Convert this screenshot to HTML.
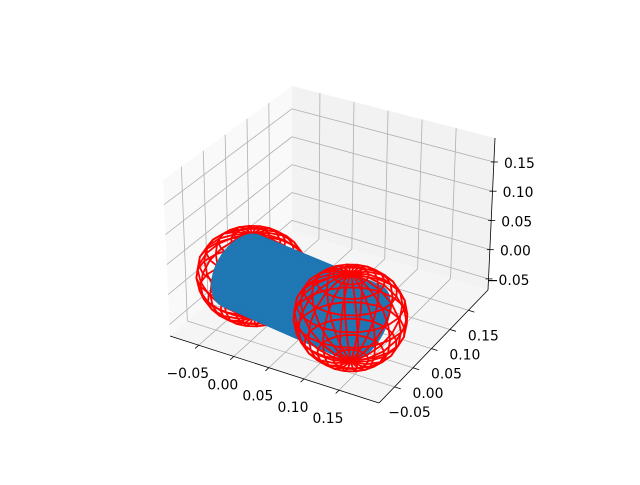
<!DOCTYPE html>
<html><head><meta charset="utf-8"><style>
html,body{margin:0;padding:0;background:#fff;}
svg text{font-family:"DejaVu Sans","Liberation Sans",sans-serif;font-size:13.9px;fill:#000;}
</style></head>
<body>
<svg id="chart" width="640" height="480" viewBox="0 0 640 480" xmlns="http://www.w3.org/2000/svg">
<rect width="640" height="480" fill="#fff"/>
<g id="panes"></g>
<g id="grid"></g>
<g id="axes"></g>
<g id="marks"></g>
</svg>
<script>
// ---- data ----
const xLim = [-0.091, 0.207];
const yLim = [-0.092, 0.203];
const zLim = [-0.069, 0.191];
const xTicks = [-0.05, 0.00, 0.05, 0.10, 0.15];
const yTicks = [-0.05, 0.00, 0.05, 0.10, 0.15];
const zTicks = [-0.05, 0.00, 0.05, 0.10, 0.15];
const tickLabels = ["\u22120.05", "0.00", "0.05", "0.10", "0.15"];
const sphereCentersX = [-0.032, 0.126];
const sphereCentersY = [0.012, -0.017];
const sphereCentersZ = [-0.008, -0.005];
const sphereRadius = [0.07, 0.072];
const cylinderRadius = [0.055];
const cylinderExtension = [0.02];

// ---- projection: trilinear interpolation between screen corners of the box ----
const C = {
  '000':[170,336],'100':[379,403],'110':[488,290],'010':[292,231],
  '001':[163,180],'101':[379,238],'111':[495,138],'011':[292,86]
};
function projF(u,v,w){
  let X=0,Y=0;
  for(const a of [0,1])for(const b of [0,1])for(const c of [0,1]){
    const wt=(a?u:1-u)*(b?v:1-v)*(c?w:1-w);
    const p=C[''+a+b+c];X+=wt*p[0];Y+=wt*p[1];
  }
  return [X,Y];
}
function fx(x){return (x-xLim[0])/(xLim[1]-xLim[0]);}
function fy(y){return (y-yLim[0])/(yLim[1]-yLim[0]);}
function fz(z){return (z-zLim[0])/(zLim[1]-zLim[0]);}
function proj(x,y,z){return projF(fx(x),fy(y),fz(z));}
function depth(x,y,z){return 0.433*(fx(x)-.5)-0.75*(fy(y)-.5)+0.5*(fz(z)-.5);}

const NS='http://www.w3.org/2000/svg';
function mk(tag,attrs,parent){const e=document.createElementNS(NS,tag);for(const k in attrs)e.setAttribute(k,attrs[k]);parent.appendChild(e);return e;}
const pts=a=>a.map(p=>p[0].toFixed(2)+','+p[1].toFixed(2)).join(' ');

// panes
const panes=document.getElementById('panes');
let e;
e=mk('polygon',{points:pts([projF(0,0,0),projF(0,1,0),projF(0,1,1),projF(0,0,1)]),fill:'#f9f9f9'},panes);


e=mk('polygon',{points:pts([projF(0,1,0),projF(1,1,0),projF(1,1,1),projF(0,1,1)]),fill:'#f2f2f2'},panes);


e=mk('polygon',{points:pts([projF(0,0,0),projF(1,0,0),projF(1,1,0),projF(0,1,0)]),fill:'#f5f5f5'},panes);



// grid
const grid=document.getElementById('grid');
function gl(a,b,name){const l=mk('line',{x1:a[0],y1:a[1],x2:b[0],y2:b[1],stroke:'#b0b0b0','stroke-width':0.8},grid);

}
xTicks.forEach(t=>{const u=fx(t);gl(projF(u,0,0),projF(u,1,0),'x-grid-floor');gl(projF(u,1,0),projF(u,1,1),'x-grid-back');});
yTicks.forEach(t=>{const v=fy(t);gl(projF(0,v,0),projF(1,v,0),'y-grid-floor');gl(projF(0,v,0),projF(0,v,1),'y-grid-left');});
zTicks.forEach(t=>{const w=fz(t);gl(projF(0,0,w),projF(0,1,w),'z-grid-left');gl(projF(0,1,w),projF(1,1,w),'z-grid-back');});

// axes
const axes=document.getElementById('axes');
function al(a,b,name,wd){const l=mk('line',{x1:a[0],y1:a[1],x2:b[0],y2:b[1],stroke:'#000','stroke-width':wd||0.8},axes);

}
al(projF(0,0,0),projF(1,0,0),'x-axis-line');
al(projF(1,0,0),projF(1,1,0),'y-axis-line');
al(projF(1,1,0),projF(1,1,1),'z-axis-line');
function lab(p,txt,anchor,name){const t=mk('text',{x:p[0].toFixed(1),y:p[1].toFixed(1),'text-anchor':anchor},axes);t.textContent=txt;

}
xTicks.forEach((t,i)=>{const u=fx(t);const a=projF(u,0,0),b=projF(u,-0.03,0);al(a,b,'x-tick');
lab([a[0]-11,a[1]+33],tickLabels[i],'middle','x-tick-label');});
yTicks.forEach((t,i)=>{const v=fy(t);const a=projF(1,v,0),b=projF(1.03,v,0);al(a,b,'y-tick');
lab([a[0]+15,a[1]+30],tickLabels[i],'middle','y-tick-label');});
zTicks.forEach((t,i)=>{const w=fz(t);const a=projF(1,1,w);al([a[0]-3,a[1]],[a[0]+4,a[1]],'z-tick');
lab([a[0]+41,a[1]+6],tickLabels[i],'end','z-tick-label');});

// marks
const marks=document.getElementById('marks');
function sphere(i,name){
  const g=mk('g',{fill:'none',stroke:'#ff0000','stroke-width':1.8,'stroke-linejoin':'round'},marks);
  
  
  const cx=sphereCentersX[i],cy=sphereCentersY[i],cz=sphereCentersZ[i],r=sphereRadius[i];
  const NU=20,NV=10;
  const P=(uu,vv)=>proj(cx+r*Math.cos(uu)*Math.sin(vv),cy+r*Math.sin(uu)*Math.sin(vv),cz+r*Math.cos(vv));
  for(let a=0;a<NU;a++){const uu=2*Math.PI*a/NU;const arr=[];for(let b=0;b<=NV;b++)arr.push(P(uu,Math.PI*b/NV));
    mk('polyline',{points:pts(arr)},g);}
  for(let b=1;b<NV;b++){const vv=Math.PI*b/NV;const arr=[];for(let a=0;a<=NU;a++)arr.push(P(2*Math.PI*a/NU,vv));
    mk('polyline',{points:pts(arr)},g);}
}
function cylinder(){
  const g=mk('g',{},marks);
  
  
  let A=[sphereCentersX[0],sphereCentersY[0],sphereCentersZ[0]],B=[sphereCentersX[1],sphereCentersY[1],sphereCentersZ[1]];
  const r=cylinderRadius[0];
  let d=[B[0]-A[0],B[1]-A[1],B[2]-A[2]];let L=Math.hypot(...d);const n=d.map(q=>q/L);
  const ex=cylinderExtension[0];
  A=A.map((q,j)=>q-n[j]*ex);B=B.map((q,j)=>q+n[j]*ex);
  d=[B[0]-A[0],B[1]-A[1],B[2]-A[2]];
  let e1=[-n[1],n[0],0];const l1=Math.hypot(...e1);e1=e1.map(q=>q/l1);
  const e2=[n[1]*e1[2]-n[2]*e1[1],n[2]*e1[0]-n[0]*e1[2],n[0]*e1[1]-n[1]*e1[0]];
  const N=48,quads=[];
  for(let k=0;k<N;k++){
    const q=[];
    for(const [t,s] of [[0,k],[1,k],[1,k+1],[0,k+1]]){
      const th=2*Math.PI*s/N;
      q.push([A[0]+d[0]*t+r*(Math.cos(th)*e1[0]+Math.sin(th)*e2[0]),
              A[1]+d[1]*t+r*(Math.cos(th)*e1[1]+Math.sin(th)*e2[1]),
              A[2]+d[2]*t+r*(Math.cos(th)*e1[2]+Math.sin(th)*e2[2])]);
    }
    const c=[0,1,2].map(j=>(q[0][j]+q[1][j]+q[2][j]+q[3][j])/4);
    quads.push({q,dep:depth(...c)});
  }
  quads.sort((a,b)=>a.dep-b.dep);
  quads.forEach(o=>{const p=mk('polygon',{points:pts(o.q.map(v=>proj(...v))),fill:'#1f77b4',stroke:'#1f77b4','stroke-width':0.6},g);
    
    });
}
sphere(0,'left-sphere-wireframe');
cylinder();
sphere(1,'right-sphere-wireframe');
</script>
</body></html>
